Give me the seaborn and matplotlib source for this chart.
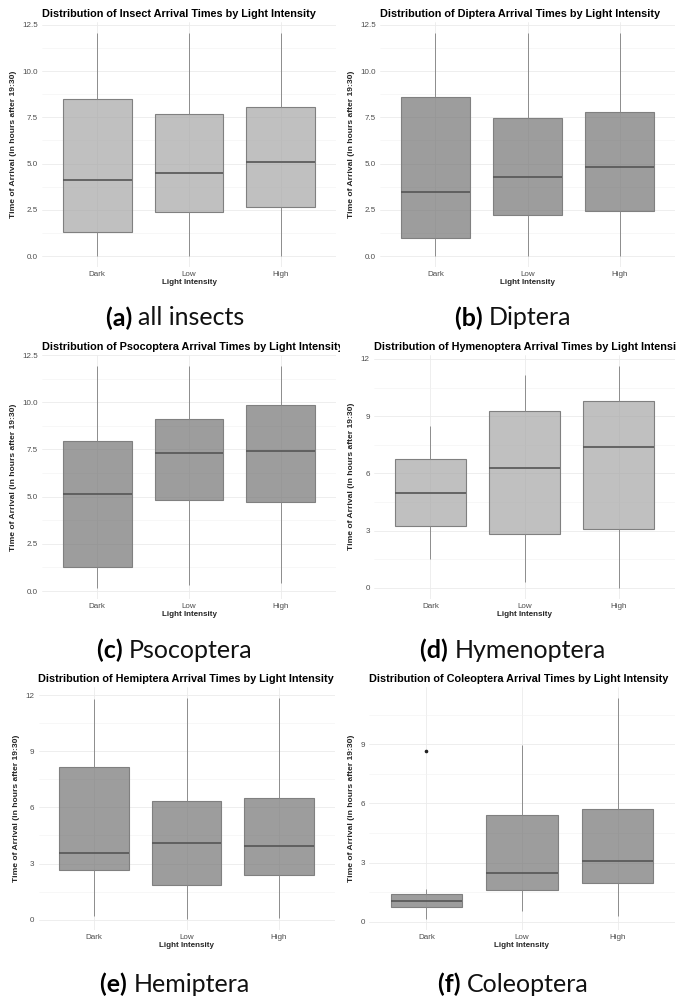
import matplotlib
matplotlib.use("Agg")
import matplotlib.pyplot as plt
import seaborn as sns
import numpy as np
import pandas as pd
from matplotlib.ticker import MultipleLocator, FormatStrFormatter
from matplotlib.transforms import Bbox, TransformedBbox

# five-number summaries: [lower whisker, q1, median, q3, upper whisker]
categories = ["Dark", "Low", "High"]

insects_dark = [0.0, 1.28, 4.09, 8.51, 12.05]
insects_low = [0.0, 2.36, 4.51, 7.70, 12.05]
insects_high = [0.0, 2.63, 5.07, 8.08, 12.05]

diptera_dark = [0.0, 0.96, 3.48, 8.59, 12.05]
diptera_low = [0.0, 2.20, 4.27, 7.45, 12.05]
diptera_high = [0.0, 2.42, 4.80, 7.78, 12.05]

psocoptera_dark = [0.17, 1.25, 5.16, 7.93, 11.92]
psocoptera_low = [0.32, 4.84, 7.33, 9.09, 11.92]
psocoptera_high = [0.44, 4.73, 7.40, 9.85, 11.92]

hymenoptera_dark = [1.50, 3.23, 4.98, 6.74, 8.49]
hymenoptera_low = [0.33, 2.81, 6.30, 9.29, 11.17]
hymenoptera_high = [0.0, 3.07, 7.40, 9.82, 11.65]

hemiptera_dark = [0.21, 2.65, 3.54, 8.16, 11.79]
hemiptera_low = [0.04, 1.83, 4.09, 6.33, 11.86]
hemiptera_high = [0.09, 2.38, 3.91, 6.51, 11.82]

coleoptera_dark = [0.12, 0.75, 1.07, 1.39, 1.64]
coleoptera_low = [0.54, 1.60, 2.46, 5.41, 8.97]
coleoptera_high = [0.29, 1.97, 3.10, 5.74, 11.37]
coleoptera_dark_outliers = [8.65]

W, H = 693, 999
fig = plt.figure(figsize=(W / 100, H / 100), dpi=100)
sns.set_theme(style="white")
plt.rcParams["font.family"] = ["Liberation Sans", "DejaVu Sans"]


def to_points(summary, outliers=()):
    lo, q1, med, q3, hi = summary
    # 9 values whose linear-interpolated quartiles are exactly q1 / median / q3
    pts = [lo, q1, q1, med, med, q3, q3, hi, hi]
    if outliers:
        pts[-1] = outliers[0]
    return pts


def make_df(groups, outliers=None):
    outliers = outliers or {}
    rows = []
    for cat, summ in zip(categories, groups):
        for v in to_points(summ, outliers.get(cat, ())):
            rows.append({"Light Intensity": cat, "time": v})
    return pd.DataFrame(rows)


panels = [
    ("Insect", [insects_dark, insects_low, insects_high], None, "(a)", "all insects",
     (42, 336, 22.2, 267.1), (-0.6, 12.65), 2.5, "#A8A8A8", 0, 0),
    ("Diptera", [diptera_dark, diptera_low, diptera_high], None, "(b)", "Diptera",
     (380, 675, 22.2, 267.1), (-0.6, 12.65), 2.5, "#777777", 1, 0),
    ("Psocoptera", [psocoptera_dark, psocoptera_low, psocoptera_high], None, "(c)", "Psocoptera",
     (42, 336, 355, 599), (-0.42, 12.5), 2.5, "#777777", 0, 1),
    ("Hymenoptera", [hymenoptera_dark, hymenoptera_low, hymenoptera_high], None, "(d)", "Hymenoptera",
     (374, 675, 354.6, 599), (-0.58, 12.23), 3, "#A8A8A8", 1, 1),
    ("Hemiptera", [hemiptera_dark, hemiptera_low, hemiptera_high], None, "(e)", "Hemiptera",
     (38.5, 334.5, 686.6, 930), (-0.55, 12.45), 3, "#777777", 0, 2),
    ("Coleoptera", [coleoptera_dark, coleoptera_low, coleoptera_high],
     {"Dark": coleoptera_dark_outliers}, "(f)", "Coleoptera",
     (369, 675, 686.6, 930.3), (-0.44, 11.93), 3, "#777777", 1, 2),
]

caption_y = [318, 650, 984]
caption_cx = [175, 513]
col_x = [(0, 340), (340, 676)]
renderer = fig.canvas.get_renderer()

for name, groups, outl, tag, caption, box, ylim, step, fill, col, row in panels:
    l, r, t, b = box
    ax = fig.add_axes([l / W, 1 - b / H, (r - l) / W, (b - t) / H])
    df = make_df(groups, outl)
    sns.boxplot(data=df, x="Light Intensity", y="time", order=categories, ax=ax,
                width=0.75, color=fill, linecolor="#808080", linewidth=0.8,
                showcaps=False, whis=1.5,
                medianprops=dict(color="#555555", linewidth=1.2),
                whiskerprops=dict(color="#8C8C8C", linewidth=0.7),
                flierprops=dict(marker="o", markersize=1.6, markerfacecolor="#222222",
                                markeredgecolor="#222222"))
    for p in ax.patches:
        rgb = matplotlib.colors.to_rgb(fill)
        p.set_facecolor((*rgb, 0.72))
        p.set_zorder(2)

    ax.set_xlim(-0.6, 2.6)
    ax.set_ylim(*ylim)
    ax.yaxis.set_major_locator(MultipleLocator(step))
    ax.yaxis.set_minor_locator(MultipleLocator(step / 2))
    if step == 2.5:
        ax.yaxis.set_major_formatter(FormatStrFormatter("%.1f"))
    ax.set_axisbelow(True)
    ax.grid(True, which="major", color="#EBEBEB", linewidth=0.6)
    ax.grid(True, which="minor", axis="y", color="#F2F2F2", linewidth=0.4)
    for s in ax.spines.values():
        s.set_visible(False)
    ax.tick_params(axis="both", which="both", length=0, labelsize=5.8,
                   labelcolor="#4D4D4D", pad=3)
    ax.set_xlabel("Light Intensity", fontsize=5.8, fontweight="bold", labelpad=0.5)
    ax.set_ylabel("Time of Arrival (in hours after 19:30)", fontsize=6.1,
                  fontweight="bold", labelpad=4)

    title = fig.text(l / W, 1 - (t - 8) / H,
                     f"Distribution of {name} Arrival Times by Light Intensity",
                     fontsize=7.8, fontweight="bold", ha="left", va="center", color="black")
    cx0, cx1 = col_x[col]
    clip = TransformedBbox(Bbox([[cx0 / W, 0], [cx1 / W, 1]]), fig.transFigure)
    title.set_clip_box(clip)
    title.set_clip_on(True)

    # caption: bold tag + regular name, centred as one line under the panel
    ty = 1 - caption_y[row] / H
    t1 = fig.text(0, ty, f"{tag} ", fontsize=18, fontweight="bold",
                  family=["Lato", "DejaVu Sans"], ha="left", va="center", color="black")
    t2 = fig.text(0, ty, caption, fontsize=18, fontweight="normal",
                  family=["Lato", "DejaVu Sans"], ha="left", va="center", color="#111111")
    w1 = t1.get_window_extent(renderer).width
    w2 = t2.get_window_extent(renderer).width
    x0 = caption_cx[col] - (w1 + w2) / 2
    t1.set_x(x0 / W)
    t2.set_x((x0 + w1) / W)

fig.savefig("out.png", dpi=100, facecolor="white")
